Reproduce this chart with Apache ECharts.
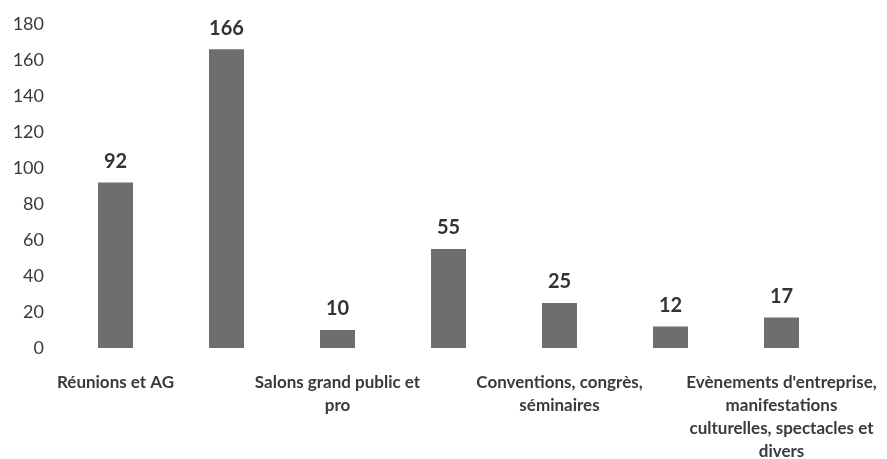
<!DOCTYPE html>
<html>
<head>
<meta charset="utf-8">
<script src="https://cdn.jsdelivr.net/npm/echarts@6/dist/echarts.min.js"></script>
<style>html,body{margin:0;padding:0;background:#fff;}#c{width:887px;height:459px;}</style>
</head>
<body>
<div id="c"></div>
<script>
var categories = [
  "Réunions et AG",
  "",
  "Salons grand public et\npro",
  "",
  "Conventions, congrès,\nséminaires",
  "",
  "Evènements d'entreprise,\nmanifestations\nculturelles, spectacles et\ndivers"
];
var values = [92, 166, 10, 55, 25, 12, 17];
var yTicks = [0, 20, 40, 60, 80, 100, 120, 140, 160, 180];

var chart = echarts.init(document.getElementById('c'));
chart.setOption({
  animation: false,
  backgroundColor: '#ffffff',
  grid: { left: 60, right: 50, top: 24, bottom: 111, containLabel: false, outerBoundsMode: 'none' },
  xAxis: {
    type: 'category',
    data: categories,
    axisLine: { show: false },
    axisTick: { show: false },
    axisLabel: {
      interval: 0,
      margin: 23,
      fontFamily: 'Lato',
      fontWeight: 'bold',
      fontSize: 17,
      lineHeight: 23,
      color: '#3a3a3a'
    }
  },
  yAxis: {
    type: 'value',
    min: yTicks[0],
    max: yTicks[yTicks.length - 1],
    interval: 20,
    axisLine: { show: false },
    axisTick: { show: false },
    splitLine: { show: false },
    axisLabel: {
      margin: 16,
      fontFamily: 'Lato',
      fontSize: 18,
      color: '#3a3a3a'
    }
  },
  series: [{
    type: 'bar',
    data: values,
    barWidth: 35,
    itemStyle: { color: '#6e6e6e' },
    label: {
      show: true,
      position: 'top',
      distance: 11,
      fontFamily: 'Lato',
      fontWeight: 'bold',
      fontSize: 20,
      color: '#333333'
    }
  }]
});
</script>
</body>
</html>
